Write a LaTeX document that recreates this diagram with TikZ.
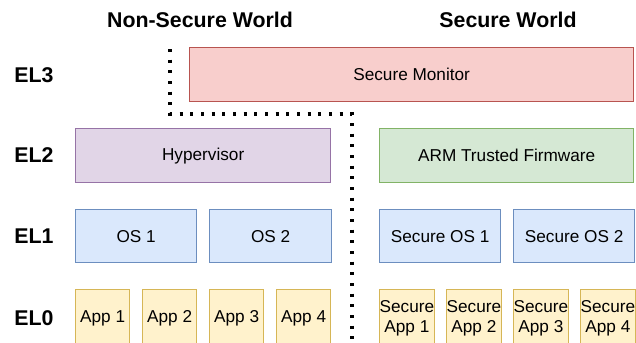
\documentclass[tikz,border=0pt]{standalone}
\usepackage{fontspec}
\setmainfont{Liberation Sans}
\definecolor{redF}{HTML}{F8CECC}\definecolor{redS}{HTML}{B85450}
\definecolor{purF}{HTML}{E1D5E7}\definecolor{purS}{HTML}{9673A6}
\definecolor{grnF}{HTML}{D5E8D4}\definecolor{grnS}{HTML}{82B366}
\definecolor{bluF}{HTML}{DAE8FC}\definecolor{bluS}{HTML}{6C8EBF}
\definecolor{yelF}{HTML}{FFF2CC}\definecolor{yelS}{HTML}{D6B656}
\begin{document}
\begin{tikzpicture}[x=0.75pt,y=-0.75pt,
  bx/.style n args={4}{draw=#2, fill=#1, line width=1pt, anchor=north west, inner sep=0pt,
    minimum width=#3*0.75pt, minimum height=#4*0.75pt, align=center,
    font=\fontsize{12.9}{15}\selectfont},
  ttl/.style={font=\fontsize{16}{18}\selectfont\bfseries, inner sep=0pt},
  sep/.style={line width=2.3pt, dash pattern=on 2.3pt off 5.7pt}]
\useasboundingbox (0,0) rectangle (636,343);
% titles
\node[ttl] (nsw) at (200,20) {Non-Secure World};
\node[ttl] (sw) at (508,20) {Secure World};
% EL labels
\node[ttl] (el3) at (34,75) {EL3};
\node[ttl] (el2) at (34,155) {EL2};
\node[ttl] (el1) at (34,236) {EL1};
\node[ttl] (el0) at (34,318) {EL0};
% boxes
\node[bx={redF}{redS}{444}{54}] (mon) at (189,47) {Secure Monitor};
\node[bx={purF}{purS}{255}{54}] (hyp) at (75,128) {Hypervisor};
\node[bx={grnF}{grnS}{254}{54}] (atf) at (379,128) {ARM Trusted Firmware};
\node[bx={bluF}{bluS}{121}{53}] (os1) at (75,209) {OS 1};
\node[bx={bluF}{bluS}{122}{53}] (os2) at (209,209) {OS 2};
\node[bx={bluF}{bluS}{121}{53}] (sos1) at (379,209) {Secure OS 1};
\node[bx={bluF}{bluS}{121}{53}] (sos2) at (513,209) {Secure OS 2};
\node[bx={yelF}{yelS}{54}{58}] (a1) at (75,289) {App 1};
\node[bx={yelF}{yelS}{54}{58}] (a2) at (142,289) {App 2};
\node[bx={yelF}{yelS}{54}{58}] (a3) at (209,289) {App 3};
\node[bx={yelF}{yelS}{54}{58}] (a4) at (276,289) {App 4};
\node[bx={yelF}{yelS}{54}{58}] (sa1) at (379,289) {Secure\\App 1};
\node[bx={yelF}{yelS}{53}{58}] (sa2) at (446,289) {Secure\\App 2};
\node[bx={yelF}{yelS}{54}{58}] (sa3) at (513,289) {Secure\\App 3};
\node[bx={yelF}{yelS}{53}{58}] (sa4) at (580,289) {Secure\\App 4};
% separator
\coordinate (d0) at (170,49);
\coordinate (d1) at (170,114);
\coordinate (d2) at (352,114);
\coordinate (d3) at (352,346);
\draw[sep] (d0) -- (d1) -- (d2) -- (d3);
\end{tikzpicture}
\end{document}
